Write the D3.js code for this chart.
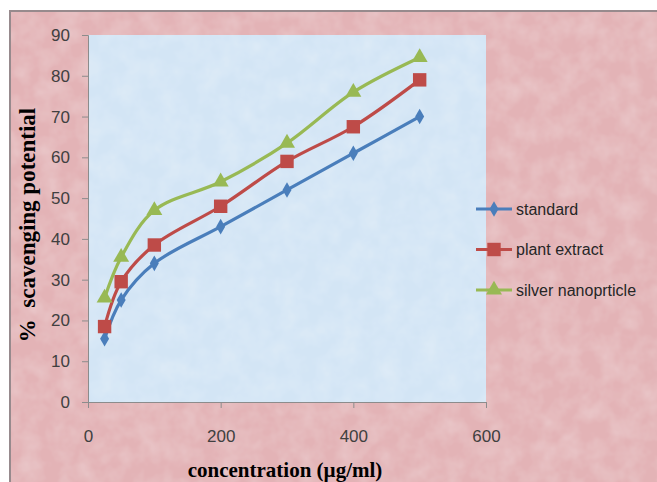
<!DOCTYPE html>
<html>
<head>
<meta charset="utf-8">
<script src="https://cdn.jsdelivr.net/npm/d3@7"></script>
<style>
  html, body { margin: 0; padding: 0; background: #fff; }
  svg { display: block; }
</style>
</head>
<body>
<svg id="chart" width="657" height="482"></svg>
<script>
// data
const concentrations = [25, 50, 100, 200, 300, 400, 500];
const standard = [15.5, 25, 34, 43, 52, 61, 70];
const plantExtract = [18.5, 29.5, 38.5, 48, 59, 67.5, 79];
const silverNano = [25.5, 35.5, 47, 54, 63.5, 76, 84.5];
const seriesNames = ["standard", "plant extract", "silver nanoprticle"];
const xTicks = [0, 200, 400, 600];
const yTicks = [0, 10, 20, 30, 40, 50, 60, 70, 80, 90];

const series = [
  { name: seriesNames[0], values: standard, color: "#4a7ebb", symbol: d3.symbolDiamond, size: 70 },
  { name: seriesNames[1], values: plantExtract, color: "#be4b48", symbol: d3.symbolSquare, size: 180 },
  { name: seriesNames[2], values: silverNano, color: "#98b954", symbol: d3.symbolTriangle, size: 110 }
];

const svg = d3.select("#chart");
const plot = { left: 88, right: 486, top: 35, bottom: 402 };

// subtle paper texture
const defs = svg.append("defs");
const tex = defs.append("filter").attr("id", "tex").attr("x", 0).attr("y", 0).attr("width", 1).attr("height", 1);
tex.append("feTurbulence").attr("type", "fractalNoise").attr("baseFrequency", 0.05).attr("numOctaves", 3).attr("seed", 4).attr("result", "noise");
tex.append("feColorMatrix").attr("in", "noise").attr("type", "matrix")
  .attr("values", "0 0 0 0 1  0 0 0 0 1  0 0 0 0 1  0.35 0 0 0 -0.12").attr("result", "spots");
tex.append("feComposite").attr("in", "spots").attr("in2", "SourceGraphic").attr("operator", "atop");

// outer chart area
svg.append("rect").attr("x", 10).attr("y", 11).attr("width", 660).attr("height", 480)
  .attr("fill", "#e3b3b6").attr("filter", "url(#tex)");
svg.append("line").attr("x1", 9).attr("x2", 657).attr("y1", 11).attr("y2", 11).attr("stroke", "#978a8d").attr("stroke-width", 2);
svg.append("line").attr("x1", 10).attr("x2", 10).attr("y1", 10).attr("y2", 482).attr("stroke", "#978a8d").attr("stroke-width", 2);

// plot area
svg.append("rect").attr("x", plot.left).attr("y", plot.top)
  .attr("width", plot.right - plot.left).attr("height", plot.bottom - plot.top)
  .attr("fill", "#d3e5f5").attr("filter", "url(#tex)");

const x = d3.scaleLinear().domain([0, 600]).range([plot.left, plot.right]);
const y = d3.scaleLinear().domain([0, 90]).range([plot.bottom, plot.top]);

const axisFont = "'Liberation Sans', Arial, sans-serif";

const yAxis = svg.append("g").attr("transform", `translate(${plot.left},0)`)
  .call(d3.axisLeft(y).tickValues(yTicks).tickSize(6).tickPadding(12));
const xAxis = svg.append("g").attr("transform", `translate(0,${plot.bottom})`)
  .call(d3.axisBottom(x).tickValues(xTicks).tickSize(6).tickPadding(22));
[xAxis, yAxis].forEach(g => {
  g.select(".domain").attr("stroke", "#8c8c8c");
  g.selectAll(".tick line").attr("stroke", "#8c8c8c");
  g.selectAll(".tick text").attr("fill", "#404040").attr("font-size", 17).attr("font-family", axisFont);
});

// series lines
const line = d3.line()
  .x((d, i) => x(concentrations[i]))
  .y(d => y(d))
  .curve(d3.curveCatmullRom.alpha(0.5));

series.forEach(s => {
  svg.append("path").datum(s.values)
    .attr("d", line).attr("fill", "none")
    .attr("stroke", s.color).attr("stroke-width", 3.2).attr("stroke-linejoin", "round");
  svg.append("g").selectAll("path").data(s.values).join("path")
    .attr("transform", (d, i) => `translate(${x(concentrations[i])},${y(d)})`)
    .attr("d", d3.symbol().type(s.symbol).size(s.size))
    .attr("fill", s.color);
});

// legend
const legend = svg.append("g");
series.forEach((s, i) => {
  const ly = 209 + i * 40.5;
  legend.append("line").attr("x1", 476).attr("x2", 512).attr("y1", ly).attr("y2", ly)
    .attr("stroke", s.color).attr("stroke-width", 3.2);
  legend.append("path").attr("transform", `translate(494,${ly})`)
    .attr("d", d3.symbol().type(s.symbol).size(s.size)).attr("fill", s.color);
  legend.append("text").attr("x", 516).attr("y", ly + 5.5)
    .attr("font-family", axisFont).attr("font-size", 16).attr("fill", "#262626")
    .text(s.name);
});

// axis titles
const titleFont = "'Liberation Serif', 'Times New Roman', serif";
svg.append("text").attr("x", 285).attr("y", 477).attr("text-anchor", "middle")
  .attr("font-family", titleFont).attr("font-weight", "bold").attr("font-size", 21).attr("fill", "#000")
  .text("concentration (µg/ml)");
svg.append("text").attr("transform", "translate(35,225) rotate(-90)").attr("text-anchor", "middle")
  .attr("font-family", titleFont).attr("font-weight", "bold").attr("font-size", 23).attr("fill", "#000")
  .attr("xml:space", "preserve")
  .text("%  scavenging potential");
</script>
</body>
</html>
